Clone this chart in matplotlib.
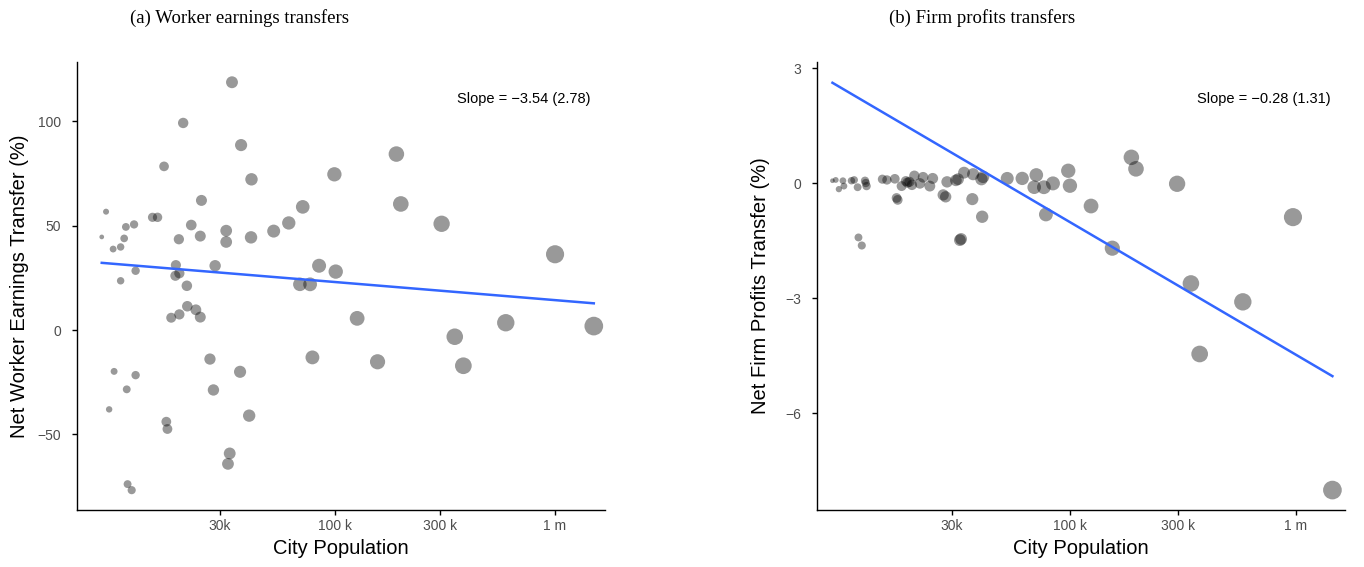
import matplotlib
matplotlib.use("Agg")
import matplotlib.pyplot as plt
import numpy as np

plt.rcParams['font.family'] = ['Liberation Sans', 'DejaVu Sans']

# (a) worker earnings, population in thousands
pop_a = [8.7, 9.1, 9.8, 10.6, 11.2, 11.0, 12.2, 12.4, 10.6, 14.8,
         15.6, 16.7, 20.4, 19.5, 22.2, 24.4, 24.7, 18.9, 18.8, 19.6,
         21.2, 28.5, 32, 32, 34, 37.4, 41.7, 41.5, 52.6, 61.6,
         71.3, 69.2, 77, 84.6, 99.3, 100.7, 190, 199, 305, 1000,
         126, 597, 350, 1500, 18, 19.6, 21.3, 23.3, 24.4, 27,
         37, 78.9, 28, 40.7, 9.9, 12.4, 11.3, 9.4, 17.1, 17.3,
         33.2, 32.6, 11.4, 11.9, 156, 383]
earn_a = [44.6, 56.7, 38.8, 39.8, 49.4, 43.9, 50.6, 28.4, 23.6, 54,
          54, 78.4, 99.2, 43.5, 50.3, 45, 62.1, 31.1, 26, 27.2,
          21.2, 30.8, 47.6, 42.2, 118.7, 88.6, 72.2, 44.4, 47.4, 51.3,
          59, 21.9, 21.9, 30.8, 74.6, 28, 84.3, 60.4, 50.9, 36.3,
          5.6, 3.5, -3.2, 1.9, 5.9, 7.5, 11.4, 9.7, 6.2, -13.9,
          -20, -13.1, -28.7, -41, -19.8, -21.6, -28.4, -38, -43.9, -47.4,
          -59.1, -64.1, -73.8, -76.7, -15.2, -17.1]

# (b) firm profits, population in thousands
pop_b = [8.9, 9.2, 9.9, 9.5, 10.0, 10.8, 11.1, 11.5, 12.4, 12.6,
         12.5, 14.8, 15.5, 16.8, 18.0, 19.1, 18.8, 19.5, 20.5, 20.0,
         21.7, 22.4, 24.7, 24.0, 17.3, 17.1, 11.6, 12.0, 27.5, 28.2,
         28.6, 32.0, 31.3, 34.0, 37.3, 41.3, 40.6, 37.0, 40.9, 33.0,
         32.6, 52.8, 61.5, 71.0, 69.5, 76.7, 84.1, 78.3, 98.3, 100,
         124, 154, 187, 196, 298, 343, 375, 582, 970, 1450]
profit_b = [0.06, 0.08, 0.06, -0.16, -0.08, 0.06, 0.08, -0.11, 0.06, -0.08,
            0.0, 0.10, 0.08, 0.11, -0.08, 0.01, 0.05, 0.03, 0.19, -0.05,
            -0.01, 0.15, 0.12, -0.08, -0.44, -0.39, -1.42, -1.63, -0.31, -0.36,
            0.03, 0.10, 0.07, 0.27, 0.23, 0.16, 0.10, -0.42, -0.88, -1.46,
            -1.49, 0.12, 0.12, 0.21, -0.11, -0.11, -0.01, -0.82, 0.32, -0.07,
            -0.60, -1.70, 0.67, 0.37, -0.02, -2.62, -4.46, -3.10, -0.89, -8.01]

# fitted lines: value = intercept + slope * (log10(pop) - 5)
fit_a = (23.0, -8.67)
fit_b = (-1.02, -3.46)

titles = ['(a) Worker earnings transfers', '(b) Firm profits transfers']
ylabels = ['Net Worker Earnings Transfer (%)', 'Net Firm Profits Transfer (%)']
slope_txt = ['Slope = \u22123.54 (2.78)', 'Slope = \u22120.28 (1.31)']
xticks = [30000, 100000, 300000, 1000000]
xticklabels = ['30k', '100 k', '300 k', '1 m']
yticks_a = [100, 50, 0, -50]
yticks_b = [3, 0, -3, -6]

fig = plt.figure(figsize=(13.64, 5.67), dpi=100)
ax1 = fig.add_axes([77/1364, 1-510/567, 528/1364, 448/567])
ax2 = fig.add_axes([817/1364, 1-510/567, 528/1364, 448/567])


def panel(ax, pop_k, vals, fit, yt, ylab, stxt, xlim_log, ylim):
    pop = np.array(pop_k) * 1000
    lp = np.log10(pop)
    t = (lp - lp.min()) / (lp.max() - lp.min())
    d = 4.7 + 14 * np.sqrt(t)          # diameter in px
    ax.scatter(pop, vals, s=(d * 0.72) ** 2, c='black', alpha=0.4,
               linewidths=0, zorder=2)
    xx = np.array([pop.min(), pop.max()])
    ax.plot(xx, fit[0] + fit[1] * (np.log10(xx) - 5), color='#3366FF',
            lw=1.8, zorder=3)
    ax.set_xscale('log')
    ax.set_xlim(10 ** xlim_log[0], 10 ** xlim_log[1])
    ax.set_ylim(*ylim)
    ax.set_xticks(xticks)
    ax.set_xticklabels(xticklabels)
    ax.minorticks_off()
    ax.set_yticks(yt)
    ax.set_yticklabels([str(v).replace('-', '\u2212') for v in yt])
    for s in ['top', 'right']:
        ax.spines[s].set_visible(False)
    for s in ['left', 'bottom']:
        ax.spines[s].set_linewidth(1.0)
    ax.tick_params(length=3.5, width=1.0, labelsize=10,
                   labelcolor='#4D4D4D')
    ax.tick_params(axis='x', pad=3)
    ax.tick_params(axis='y', pad=8)
    ax.set_xlabel('City Population', fontsize=14.5, va='center')
    ax.xaxis.set_label_coords(0.5, -39/448)
    ax.set_ylabel(ylab, fontsize=14.5, va='center')
    ax.yaxis.set_label_coords(-57/528, 0.5)
    ax.text(0.846, 0.917, stxt, transform=ax.transAxes, ha='center',
            va='center', fontsize=10.5)


panel(ax1, pop_a, earn_a, fit_a, yticks_a, ylabels[0], slope_txt[0],
      (3.827, 6.227), (-86.2, 128.4))
panel(ax2, pop_b, profit_b, fit_b, yticks_b, ylabels[1], slope_txt[1],
      (3.881, 6.217), (-8.53, 3.157))

fig.text(240/1364, 1-18/567, titles[0], ha='center', va='center',
         fontsize=13.5, family=['Liberation Serif', 'DejaVu Serif'])
fig.text(982/1364, 1-18/567, titles[1], ha='center', va='center',
         fontsize=13.5, family=['Liberation Serif', 'DejaVu Serif'])

fig.savefig('out.png', dpi=100)
